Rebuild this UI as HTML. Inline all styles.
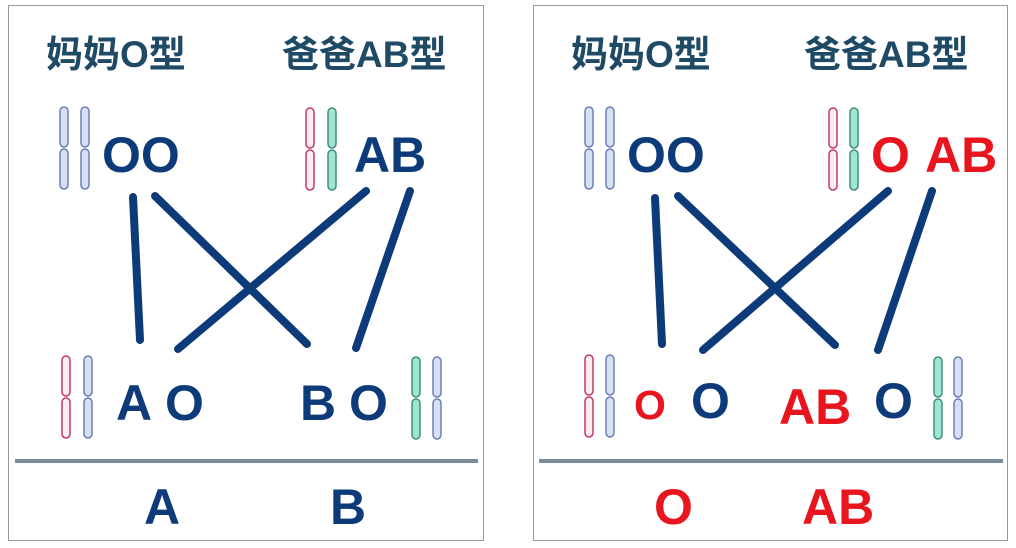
<!DOCTYPE html>
<html><head><meta charset="utf-8"><style>
html,body{margin:0;padding:0;background:#fff;width:1016px;height:548px;overflow:hidden}
svg{display:block}
text{font-family:"Liberation Sans","Noto Sans CJK SC",sans-serif;font-weight:bold}
.t{fill:#1e4a66;font-size:37px}
.b{fill:#0d3b7a;font-size:50px}
.r{fill:#e8141e;font-size:50px}
.ln{stroke:#0d3b7a;stroke-width:8;stroke-linecap:round}
</style></head><body>
<svg width="1016" height="548" viewBox="0 0 1016 548">
<defs>
<g id="cb"><rect x="0" y="0" width="8" height="40" rx="4" fill="#d6e0f5" stroke="#6c7fb5" stroke-width="1.5"/><rect x="0" y="42" width="8" height="40" rx="4" fill="#d6e0f5" stroke="#6c7fb5" stroke-width="1.5"/></g>
<g id="cr"><rect x="0" y="0" width="8" height="40" rx="4" fill="#fbeef2" stroke="#c23a5e" stroke-width="1.5"/><rect x="0" y="42" width="8" height="40" rx="4" fill="#fbeef2" stroke="#c23a5e" stroke-width="1.5"/></g>
<g id="ct"><rect x="0" y="0" width="8" height="40" rx="4" fill="#9fe6d2" stroke="#3f8f80" stroke-width="1.5"/><rect x="0" y="42" width="8" height="40" rx="4" fill="#9fe6d2" stroke="#3f8f80" stroke-width="1.5"/></g>
</defs>
<rect x="8.5" y="5.5" width="475" height="535" fill="#fff" stroke="#9a9a9a" stroke-width="1"/>
<rect x="533.5" y="5.5" width="474" height="535" fill="#fff" stroke="#9a9a9a" stroke-width="1"/>

<text class="t" x="46" y="67">妈妈O型</text>
<text class="t" x="282" y="67">爸爸AB型</text>
<use href="#cb" x="60" y="107"/><use href="#cb" x="81" y="107"/>
<text class="b" x="102" y="172">OO</text>
<use href="#cr" x="306" y="108"/><use href="#ct" x="328" y="108"/>
<text class="b" x="354" y="172">AB</text>
<line class="ln" x1="133" y1="197" x2="140" y2="340"/>
<line class="ln" x1="155" y1="196" x2="307" y2="344"/>
<line class="ln" x1="366" y1="191" x2="178" y2="349"/>
<line class="ln" x1="410" y1="191" x2="356" y2="348"/>
<use href="#cr" x="62" y="356"/><use href="#cb" x="84" y="356"/>
<text class="b" x="116" y="420">A</text><text class="b" x="165" y="420">O</text>
<text class="b" x="300" y="420">B</text><text class="b" x="349" y="420">O</text>
<use href="#ct" x="412" y="357"/><use href="#cb" x="433" y="357"/>
<line x1="15" y1="461" x2="478" y2="461" stroke="#7a8c99" stroke-width="4"/>
<text class="b" x="144" y="524">A</text>
<text class="b" x="330" y="524">B</text>

<text class="t" x="571" y="67">妈妈O型</text>
<text class="t" x="804" y="67">爸爸AB型</text>
<use href="#cb" x="585" y="107"/><use href="#cb" x="606" y="107"/>
<text class="b" x="627" y="172">OO</text>
<use href="#cr" x="829" y="108"/><use href="#ct" x="850" y="108"/>
<text class="r" x="871" y="172">O</text><text class="r" x="925" y="172">AB</text>
<line class="ln" x1="655" y1="198" x2="662" y2="344"/>
<line class="ln" x1="678" y1="196" x2="835" y2="345"/>
<line class="ln" x1="888" y1="191" x2="703" y2="350"/>
<line class="ln" x1="932" y1="191" x2="878" y2="350"/>
<use href="#cr" x="585" y="355"/><use href="#cb" x="606" y="355"/>
<text class="r" x="634" y="419" style="font-size:41px">O</text>
<text class="b" x="691" y="418">O</text>
<text class="r" x="779" y="424">AB</text>
<text class="b" x="874" y="418">O</text>
<use href="#ct" x="934" y="357"/><use href="#cb" x="954" y="357"/>
<line x1="539" y1="461" x2="1003" y2="461" stroke="#7a8c99" stroke-width="4"/>
<text class="r" x="654" y="524">O</text>
<text class="r" x="802" y="524">AB</text>
</svg>
</body></html>
